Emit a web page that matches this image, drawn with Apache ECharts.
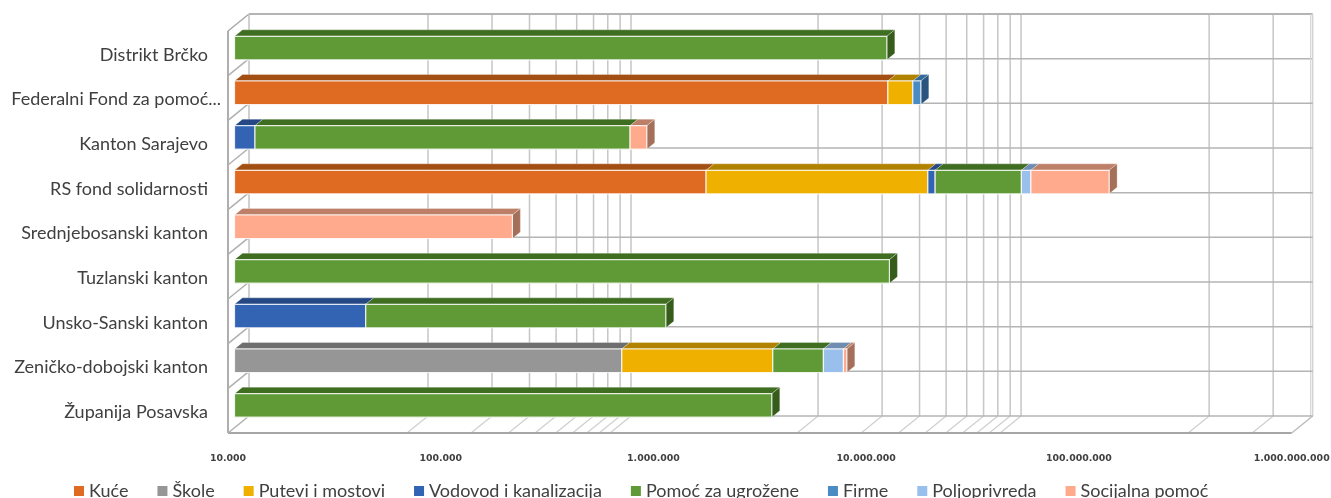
<!DOCTYPE html>
<html><head><meta charset="utf-8">
<style>html,body{margin:0;padding:0;background:#fff}#c{width:1331px;height:498px}</style>
<script src="https://cdn.jsdelivr.net/npm/echarts@6/dist/echarts.min.js"></script>
</head><body><div id="c"></div>
<script>
const categories = ["Distrikt Brčko","Federalni Fond za pomoć...","Kanton Sarajevo","RS fond solidarnosti","Srednjebosanski kanton","Tuzlanski kanton","Unsko-Sanski kanton","Zeničko-dobojski kanton","Županija Posavska"];
const kuce        = [0,11780000,0,1647000,0,0,0,0,0];
const skole       = [0,0,0,0,0,0,0,661300,0];
const putevi      = [0,3650000,0,16513000,0,0,0,2729700,0];
const vodovod     = [0,0,12480,1490000,0,0,41390,0,0];
const pomoc       = [11650000,0,710900,30350000,0,11980000,1023600,2474000,3354000];
const firme       = [0,1400000,0,0,0,0,0,0,0];
const poljo       = [0,0,0,5400000,0,0,0,1418000,0];
const socijalna   = [0,0,143500,73800000,202400,0,0,272000,0];
const gridValues  = [69400,138800,208200,277600,347000,416400,485800,555200,624600,4730000,9460000,14190000,18920000,23650000,28380000,33110000,37840000,42570000,326000000,652000000];
const tickLabels  = {10000:"10.000",100000:"100.000",1000000:"1.000.000",10000000:"10.000.000",100000000:"100.000.000",1000000000:"1.000.000.000"};
const axisMin = 10000, axisMax = 1000000000;

const seriesDefs = [
 ["Kuće",kuce,"#DE6B21","#A34F14","#8f4511"],
 ["Škole",skole,"#969696","#6E6E6E","#5f5f5f"],
 ["Putevi i mostovi",putevi,"#EFB000","#B08200","#967000"],
 ["Vodovod i kanalizacija",vodovod,"#3363B3","#254885","#1f3d72"],
 ["Pomoć za ugrožene",pomoc,"#5F9A37","#3F6E20","#355C1A"],
 ["Firme",firme,"#4A8BC4","#356A9C","#2A5480"],
 ["Poljoprivreda",poljo,"#99C0EC","#6F8DB0","#5f7a98"],
 ["Socijalna pomoć",socijalna,"#FFAA8C","#BE7F68","#A5705A"]
];
const DX = 21, DY = -17, F0 = 0.31, FD = 0.38, BAR = 0.527;

const cum = categories.map(()=>0);
const lastIdx = categories.map((_,c)=>{let l=-1;seriesDefs.forEach((d,i)=>{if(d[1][c]>0)l=i});return l});
const barSeries = seriesDefs.map((d,si)=>{
  const rows=[];
  d[1].forEach((v,c)=>{ if(v>0){ const s=Math.max(cum[c],axisMin); cum[c]+=v; rows.push([s,cum[c],c,lastIdx[c]===si?1:0]); } });
  return {
    name:d[0], type:'custom', silent:true, clip:false, z:5,
    itemStyle:{color:d[2]},
    encode:{x:[0,1],y:2},
    data:rows,
    renderItem:(p,api)=>{
      const a=api.coord([api.value(0),api.value(2)]), b=api.coord([api.value(1),api.value(2)]);
      const band=api.size([0,1])[1], h=band*BAR;
      const x0=a[0]+DX*F0, x1=b[0]+DX*F0, yt=a[1]+DY*F0-h/2, yb=yt+h, dx=DX*FD, dy=DY*FD;
      const kids=[
        {type:'polygon',shape:{points:[[x0,yt],[x1,yt],[x1+dx,yt+dy],[x0+dx,yt+dy]]},style:{fill:d[3],stroke:'rgba(255,255,255,0.35)',lineWidth:0.8}},
      ];
      if(api.value(3)) kids.push({type:'polygon',shape:{points:[[x1,yt],[x1+dx,yt+dy],[x1+dx,yb+dy],[x1,yb]]},style:{fill:d[4],stroke:'rgba(255,255,255,0.35)',lineWidth:0.8}});
      kids.push({type:'rect',shape:{x:x0,y:yt,width:x1-x0,height:h},style:{fill:d[2],stroke:'rgba(255,255,255,0.8)',lineWidth:1.2}});
      return {type:'group',children:kids};
    }
  };
});

const line=(x1,y1,x2,y2,c,w)=>({type:'line',shape:{x1,y1,x2,y2},style:{stroke:c,lineWidth:w}});
const wallSeries = {
  type:'custom', silent:true, clip:false, z:1, encode:{x:0,y:1},
  data:gridValues.map(v=>[v,0]),
  renderItem:(p,api)=>{
    const t=api.coord([api.value(0),0]), band=api.size([0,1])[1];
    const x=t[0], top=t[1]-band/2, bot=top+band*categories.length;
    return {type:'group',children:[
      line(x+DX,top+DY,x+DX,bot+DY,'#c6c6c6',1.5),
      line(x,bot,x+DX,bot+DY,'#cfcfcf',1.2)
    ]};
  }
};
const bandSeries = {
  type:'custom', silent:true, clip:false, z:2, encode:{x:0,y:1},
  data:categories.map((c,i)=>[axisMin,i]),
  renderItem:(p,api)=>{
    const a=api.coord([axisMin,api.value(1)]), b=api.coord([axisMax,api.value(1)]), band=api.size([0,1])[1];
    const y=a[1]+band/2, kids=[
      line(a[0],y,a[0]+DX,y+DY,'#b0b0b0',1.5),
      line(a[0]+DX,y+DY,b[0]+DX,y+DY,'#b4b4b4',1.5)
    ];
    if(api.value(1)===0){
      const yt=a[1]-band/2, yb=yt+band*categories.length;
      kids.push(
        line(a[0],yt,a[0]+DX,yt+DY,'#a8a8a8',1.5),
        line(a[0]+DX,yt+DY,b[0]+DX,yt+DY,'#b4b4b4',1.8),
        line(a[0]+DX,yt+DY,a[0]+DX,yb+DY,'#c0c0c0',1.5),
        line(b[0]+DX,yt+DY,b[0]+DX,yb+DY,'#d4d4d4',1.5),
        line(b[0]+DX-2,yt+DY,b[0]+DX-2,yb+DY,'#d4d4d4',1.2),
        line(a[0],yt,a[0],yb,'#a6a6a6',1.8),
        line(a[0],yb,b[0],yb,'#a6a6a6',1.8),
        line(b[0],yb,b[0]+DX,yb+DY,'#bdbdbd',1.5)
      );
    }
    return {type:'group',children:kids};
  }
};

const chart=echarts.init(document.getElementById('c'),null,{renderer:'canvas'});
chart.setOption({
  animation:false, backgroundColor:'#fff',
  grid:{left:228,right:39.3,top:31,bottom:65,containLabel:false,outerBoundsMode:'none'},
  xAxis:{type:'log',logBase:10,min:axisMin,max:axisMax,
    axisLine:{show:false},axisTick:{show:false},splitLine:{show:false},minorSplitLine:{show:false},
    axisLabel:{margin:21,color:'#404040',fontFamily:'DejaVu Sans',fontSize:9.4,fontWeight:'bold',showMinLabel:true,showMaxLabel:true,hideOverlap:false,
      formatter:v=>tickLabels[Math.round(v)]||''}},
  yAxis:{type:'category',inverse:true,data:categories,
    axisLine:{show:false},axisTick:{show:false},splitLine:{show:false},
    axisLabel:{margin:7,color:'#404040',fontFamily:'Lato',fontSize:18,interval:0,
      formatter:v=>v.endsWith('...')?'{f|'+v+'}':'{n|'+v+'}',
      rich:{n:{fontFamily:'Lato',fontSize:18,color:'#404040',padding:[3,13,0,0]},f:{fontFamily:'Lato',fontSize:18,color:'#404040',padding:[3,0,0,0]}}}},
  legend:{data:seriesDefs.map(d=>d[0]),left:74,top:482,padding:0,icon:'rect',itemWidth:10,itemHeight:10,itemGap:29,
    textStyle:{fontFamily:'Lato',fontSize:18,color:'#404040'}},
  series:[wallSeries,bandSeries,...barSeries]
});
</script></body></html>
